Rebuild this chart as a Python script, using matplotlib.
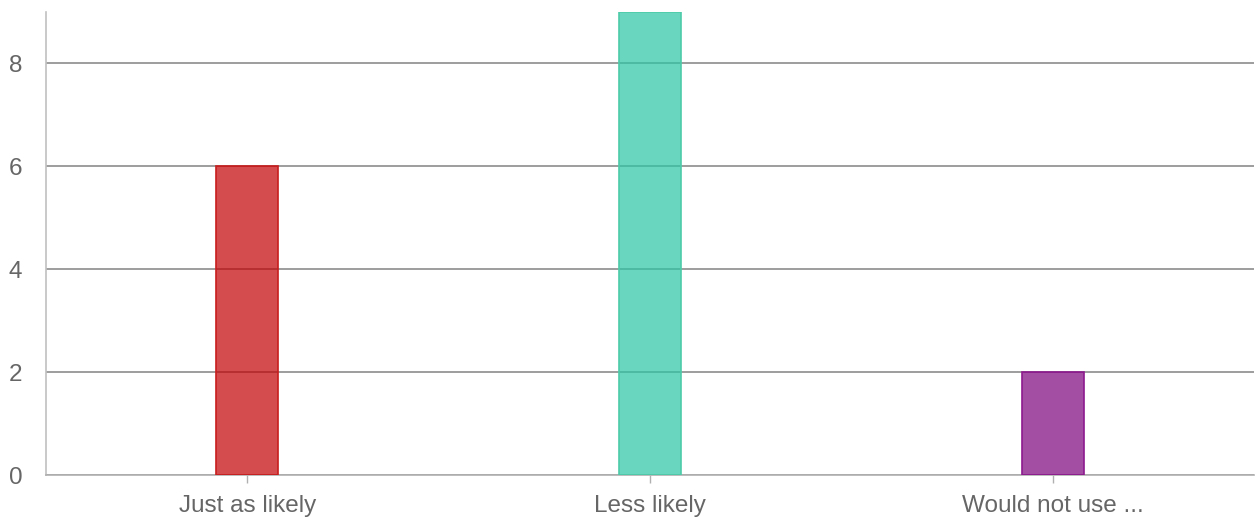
import matplotlib
matplotlib.use("Agg")
import matplotlib.pyplot as plt

categories = ["Just as likely", "Less likely", "Would not use ..."]
values = [6, 9, 2]
fill_colors = [(196/255, 0/255, 4/255), (42/255, 199/255, 165/255), (124/255, 2/255, 124/255)]
edge_colors = ["#c81e1e", "#4ecba9", "#8e1a8e"]
yticks = [0, 2, 4, 6, 8]

plt.rcParams['font.family'] = ['Liberation Sans', 'DejaVu Sans']

fig = plt.figure(figsize=(12.57, 5.17), dpi=100)
ax = fig.add_axes([46/1257, 42/517, (1254-46)/1257, (475-12)/517])

x = list(range(len(categories)))
ax.bar(x, values, width=0.154, color=fill_colors, alpha=0.7, zorder=3, linewidth=0)
ax.bar(x, values, width=0.154, fill=False, edgecolor=edge_colors, linewidth=1.2, zorder=4)

ax.set_xlim(-0.5, 2.5)
ax.set_ylim(0, 9)
ax.set_yticks(yticks)
ax.set_xticks(x)
ax.set_xticklabels(categories)
ax.yaxis.grid(True, color="#8c8c8c", linewidth=1.2, zorder=1)
ax.set_axisbelow(True)

for s in ["top", "right"]:
    ax.spines[s].set_visible(False)
ax.spines["left"].set_color("#c0c0c0")
ax.spines["bottom"].set_color("#b0b0b0")
ax.spines["left"].set_linewidth(1.2)
ax.spines["bottom"].set_linewidth(1.2)

ax.tick_params(axis="y", length=0, pad=17, labelsize=17.5, labelcolor="#666666")
ax.tick_params(axis="x", length=6, width=1, color="#b0b0b0", pad=8.5, labelsize=17.5, labelcolor="#666666")

fig.savefig("out.png", dpi=100)
